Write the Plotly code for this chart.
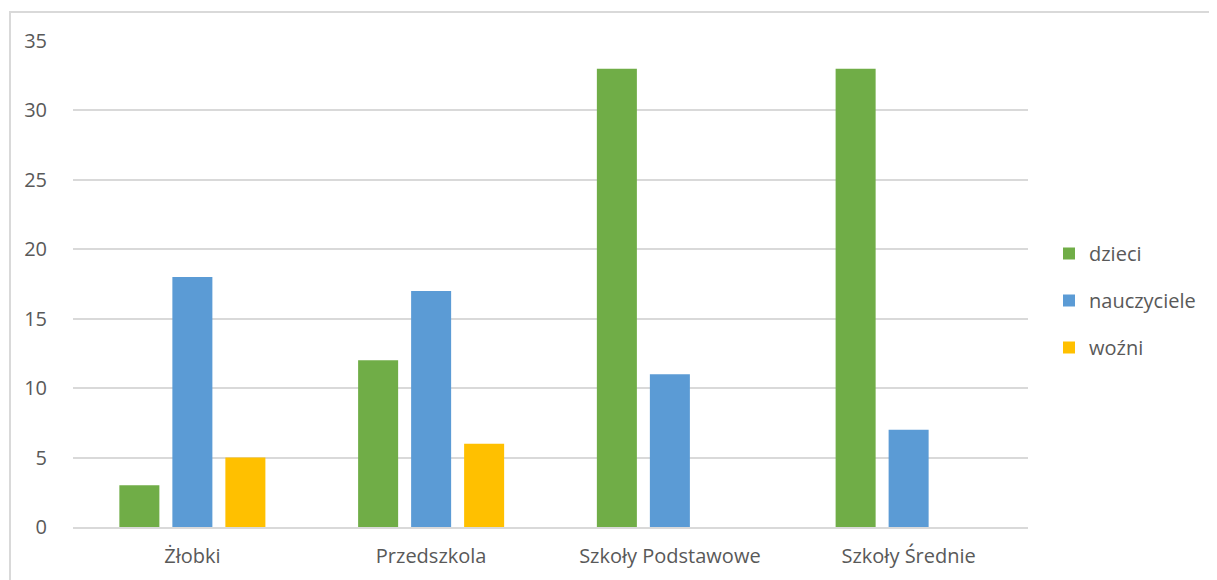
import plotly.graph_objects as go

categories = ["Żłobki", "Przedszkola", "Szkoły Podstawowe", "Szkoły Średnie"]
dzieci = [3, 12, 33, 33]
nauczyciele = [18, 17, 11, 7]
wozni = [5, 6, None, None]
series_names = ["dzieci", "nauczyciele", "woźni"]
colors = ["#70AD47", "#5B9BD5", "#FFC000"]
y_ticks = [0, 5, 10, 15, 20, 25, 30, 35]

OFF = 8  # page body margin
W, H = 1217 - OFF, 580 - OFF
L, T = 73 - OFF, 41 - OFF
pw, ph = 955, 486
R, B = W - L - pw, H - T - ph

fig = go.Figure()
for name, vals, col in zip(series_names, [dzieci, nauczyciele, wozni], colors):
    fig.add_trace(go.Bar(x=categories, y=vals, name=name, marker_color=col,
                         marker_line_width=0, legendgroup=name))

font = "Open Sans, Liberation Sans, sans-serif"
fs = 20
fig.update_layout(
    width=W, height=H,
    margin=dict(l=L, r=R, t=T, b=B, autoexpand=False),
    plot_bgcolor="white", paper_bgcolor="white",
    barmode="group", bargap=0.334, bargroupgap=0.245,
    font=dict(family=font, size=fs, color="#595959"),
    xaxis=dict(showgrid=False, showline=True, linecolor="#D9D9D9", linewidth=2,
               ticks="", tickfont=dict(size=fs, color="#595959"),
               ticklabelstandoff=10),
    yaxis=dict(range=[0, 35], tickvals=y_ticks, showgrid=True, gridcolor="#D9D9D9",
               gridwidth=2, zeroline=False, showline=False, ticks="",
               tickfont=dict(size=fs, color="#595959"), ticklabelstandoff=25),
    legend=dict(x=(1049 - 73) / pw, y=(527 - 234) / ph, xanchor="left", yanchor="top",
                font=dict(size=fs, color="#595959"), tracegroupgap=18,
                itemwidth=30, bgcolor="rgba(0,0,0,0)"),
    showlegend=True,
)
fig.add_shape(type="rect", xref="paper", yref="paper",
              x0=(10 - 73) / pw, x1=(1240 - 73) / pw,
              y0=(527 - 600) / ph, y1=(527 - 12) / ph,
              line=dict(color="#D9D9D9", width=2), layer="below")
fig.write_html("out.html")
